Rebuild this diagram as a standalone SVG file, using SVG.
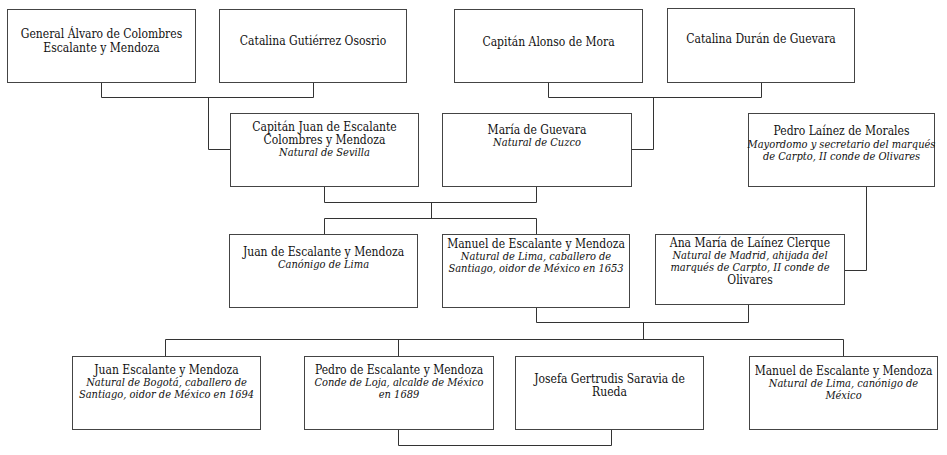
<svg xmlns="http://www.w3.org/2000/svg" width="947" height="455" viewBox="0 0 947 455">
<style>
.box{fill:#fff;stroke:#444;stroke-width:1}
.c{fill:none;stroke:#333;stroke-width:1}
text{font-family:"DejaVu Serif Condensed","DejaVu Serif",serif;font-stretch:condensed;fill:#111;text-anchor:middle}
.n{font-size:12px}
.i{font-size:11px;font-style:italic}
</style>
<rect width="947" height="455" fill="#fff"/>
<g id="connectors">
<path class="c" d="M101.5 82V97.5H313.5V82M208.5 97.5V149.5H230"/>
<path class="c" d="M548.5 82V97.5H761.5V82M653.5 97.5V149.5H631"/>
<path class="c" d="M324.5 186V202.5H536.5V186M431.5 202.5V218.5M324.5 234V218.5H536.5V234"/>
<path class="c" d="M866.5 186V270.5H844"/>
<path class="c" d="M536.5 307V322.5H748.5V305M643.5 322.5V339.5M165.5 356V339.5H843.5V356M398.5 339.5V356"/>
<path class="c" d="M398.5 429V445.5H611.5V429"/>
</g>
<g id="n1"><rect class="box" x="7.5" y="9.5" width="188" height="73"/><text class="n" x="101.5" y="38">General Álvaro de Colombres</text><text class="n" x="101.5" y="51.5">Escalante y Mendoza</text></g>
<g id="n2"><rect class="box" x="219.5" y="9.5" width="187" height="73"/><text class="n" x="313" y="45">Catalina Gutiérrez Ososrio</text></g>
<g id="n3"><rect class="box" x="454.5" y="9.5" width="188" height="73"/><text class="n" x="548.5" y="46">Capitán Alonso de Mora</text></g>
<g id="n4"><rect class="box" x="667.5" y="8.5" width="187" height="74"/><text class="n" x="761" y="43">Catalina Durán de Guevara</text></g>
<g id="n5"><rect class="box" x="230.5" y="113.5" width="188" height="73"/><text class="n" x="324.5" y="130.5">Capitán Juan de Escalante</text><text class="n" x="324.5" y="143.5">Colombres y Mendoza</text><text class="i" x="324.5" y="155.5">Natural de Sevilla</text></g>
<g id="n6"><rect class="box" x="442.5" y="113.5" width="189" height="73"/><text class="n" x="537" y="133.5">María de Guevara</text><text class="i" x="537" y="146">Natural de Cuzco</text></g>
<g id="n7"><rect class="box" x="748.5" y="113.5" width="186" height="73"/><text class="n" x="841.5" y="135">Pedro Laínez de Morales</text><text class="i" x="841.5" y="147.5">Mayordomo y secretario del marqués</text><text class="i" x="841.5" y="159.5">de Carpto, II conde de Olivares</text></g>
<g id="n8"><rect class="box" x="229.5" y="234.5" width="188" height="73"/><text class="n" x="323.5" y="255.5">Juan de Escalante y Mendoza</text><text class="i" x="323.5" y="267.5">Canónigo de Lima</text></g>
<g id="n9"><rect class="box" x="442.5" y="234.5" width="187" height="73"/><text class="n" x="536" y="248">Manuel de Escalante y Mendoza</text><text class="i" x="536" y="260">Natural de Lima, caballero de</text><text class="i" x="536" y="272">Santiago, oidor de México en 1653</text></g>
<g id="n10"><rect class="box" x="655.5" y="234.5" width="189" height="70"/><text class="n" x="750" y="247">Ana María de Laínez Clerque</text><text class="i" x="750" y="259">Natural de Madrid, ahijada del</text><text class="i" x="750" y="271">marqués de Carpto, II conde de</text><text class="n" x="750" y="284">Olivares</text></g>
<g id="n11"><rect class="box" x="72.5" y="356.5" width="188" height="73"/><text class="n" x="166.5" y="374">Juan Escalante y Mendoza</text><text class="i" x="166.5" y="386">Natural de Bogotá, caballero de</text><text class="i" x="166.5" y="398">Santiago, oidor de México en 1694</text></g>
<g id="n12"><rect class="box" x="304.5" y="356.5" width="189" height="73"/><text class="n" x="399" y="374">Pedro de Escalante y Mendoza</text><text class="i" x="399" y="386">Conde de Loja, alcalde de México</text><text class="i" x="399" y="398">en 1689</text></g>
<g id="n13"><rect class="box" x="515.5" y="356.5" width="188" height="73"/><text class="n" x="609.5" y="382.5">Josefa Gertrudis Saravia de</text><text class="n" x="609.5" y="396">Rueda</text></g>
<g id="n14"><rect class="box" x="749.5" y="356.5" width="188" height="73"/><text class="n" x="843.5" y="375">Manuel de Escalante y Mendoza</text><text class="i" x="843.5" y="387">Natural de Lima, canónigo de</text><text class="i" x="843.5" y="399">México</text></g>
</svg>
